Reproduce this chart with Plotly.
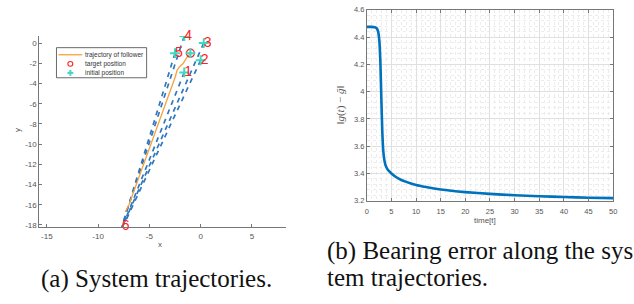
import plotly.graph_objects as go

# ---------------- data: panel (a) ----------------
leader_labels = ["1", "2", "3", "4", "5"]
leader_start_x = [-1.6, 0.0, 0.3, -1.6, -2.5]
leader_start_y = [-2.9, -1.7, 0.0, 0.7, -1.0]
leader_end_x = [-7.55, -7.45, -7.6, -7.7, -7.65]
leader_end_y = [-18.0, -17.9, -18.1, -18.2, -18.1]

meet_label = "6"
meet_x = [-7.7]
meet_y = [-18.2]

follower_x = [-1.0, -1.34, -1.73, -2.08, -2.30, -2.47, -6.98, -7.35]
follower_y = [-1.0, -1.41, -2.05, -2.37, -2.69, -3.33, -15.98, -16.7]

target_x = [-1.0]
target_y = [-1.0]

initial_x = [-1.6, 0.0, 0.3, -1.6, -2.5, -1.0]
initial_y = [-2.9, -1.7, 0.0, 0.7, -1.0, -1.0]

legend_names = ["trajectory of follower", "target position", "initial position"]

x_ticks_a = [-15, -10, -5, 0, 5]
y_ticks_a = [0, -2, -4, -6, -8, -10, -12, -14, -16, -18]

# ---------------- data: panel (b) ----------------
time_t = [0, 1.0, 1.6, 2.0, 2.3, 2.55, 2.75, 2.95, 3.15, 3.35, 3.6, 3.9, 4.3,
          5.0, 6.0, 7.0, 8.0, 10.0, 12.0, 15.0, 20.0, 25.0, 30.0, 35.0, 40.0, 45.0, 50.0]
bearing_err = [4.475, 4.475, 4.472, 4.465, 4.44, 4.37, 4.22, 3.95, 3.70, 3.56, 3.49, 3.45, 3.425,
               3.40, 3.372, 3.352, 3.338, 3.315, 3.300, 3.282, 3.263, 3.250, 3.240, 3.233, 3.227, 3.222, 3.219]

x_ticks_b = [0, 5, 10, 15, 20, 25, 30, 35, 40, 45, 50]
y_ticks_b = [3.2, 3.4, 3.6, 3.8, 4.0, 4.2, 4.4, 4.6]
y_ticktext_b = ["3.2", "3.4", "3.6", "3.8", "4", "4.2", "4.4", "4.6"]

W, H = 634, 304


def px(x):
    return x / W


def py(y):
    return 1 - y / H


BLUE = "#0072BD"
ORANGE = "#F5A23C"
CYAN = "#3fd8c4"
RED = "#ff2020"
AX = "#777777"
TICKFONT = dict(family="Liberation Sans, Arial", size=8, color="#555555")
TICKFONT_B = dict(family="Liberation Sans, Arial", size=7.5, color="#555555")

fig = go.Figure()

# leader trajectories (dashed)
for i in range(len(leader_labels)):
    fig.add_trace(go.Scatter(
        x=[leader_start_x[i], leader_end_x[i]], y=[leader_start_y[i], leader_end_y[i]],
        mode="lines", line=dict(color="#3177bd", width=1.7, dash="5px,5px"),
        showlegend=False, hoverinfo="skip", xaxis="x", yaxis="y"))

fig.add_trace(go.Scatter(
    x=follower_x, y=follower_y, mode="lines", name=legend_names[0],
    line=dict(color=ORANGE, width=1.3), showlegend=False, xaxis="x", yaxis="y"))

fig.add_trace(go.Scatter(
    x=target_x, y=target_y, mode="markers", name=legend_names[1],
    marker=dict(symbol="circle-open", size=8, color=RED, line=dict(width=1.2, color=RED)),
    showlegend=False, xaxis="x", yaxis="y"))

fig.add_trace(go.Scatter(
    x=initial_x, y=initial_y, mode="markers", name=legend_names[2],
    marker=dict(symbol="cross-thin", size=7, color=CYAN, line=dict(width=2, color=CYAN)),
    showlegend=False, xaxis="x", yaxis="y"))

fig.add_trace(go.Scatter(
    x=leader_start_x + meet_x, y=leader_start_y + meet_y, mode="text",
    text=leader_labels + [meet_label], textposition="middle right",
    textfont=dict(family="Liberation Sans, Arial", size=14, color=RED),
    cliponaxis=False, showlegend=False, hoverinfo="skip", xaxis="x", yaxis="y"))

# panel (b)
fig.add_trace(go.Scatter(
    x=time_t, y=bearing_err, mode="lines",
    line=dict(color=BLUE, width=2.6, shape="spline", smoothing=0.5),
    showlegend=False, xaxis="x2", yaxis="y2"))

fig.update_layout(
    width=W, height=H, margin=dict(l=0, r=0, t=0, b=0),
    paper_bgcolor="white", plot_bgcolor="white", showlegend=False,
    font=dict(family="Liberation Sans, Arial", size=8, color="#555555"),
    xaxis=dict(domain=[px(37.7), px(287)], range=[-15.73, 8.35],
               tickvals=x_ticks_a, ticktext=[str(v) for v in x_ticks_a],
               showline=True, linecolor=AX, linewidth=1, mirror=False,
               ticks="inside", ticklen=3, tickcolor=AX, ticklabelstandoff=1,
               showgrid=False, zeroline=False, tickfont=TICKFONT, anchor="y"),
    yaxis=dict(domain=[py(230), py(33)], range=[-18.22, 0.7],
               tickvals=y_ticks_a, ticktext=[str(v) for v in y_ticks_a],
               showline=True, linecolor=AX, linewidth=1, mirror=False,
               ticks="inside", ticklen=3, tickcolor=AX,
               showgrid=False, zeroline=False, tickfont=TICKFONT, anchor="x"),
    xaxis2=dict(domain=[px(368.3), px(617)], range=[0, 50],
                tickvals=x_ticks_b, ticktext=[str(v) for v in x_ticks_b],
                showline=True, linecolor=AX, linewidth=1, mirror="ticks",
                ticks="inside", ticklen=3, tickcolor=AX, ticklabelstandoff=3,
                showgrid=True, gridcolor="#e0e0e0", gridwidth=1, zeroline=False,
                minor=dict(dtick=1, showgrid=True, gridcolor="#ececec", griddash="dot", ticks=""),
                tickfont=TICKFONT_B, anchor="y2"),
    yaxis2=dict(domain=[py(202.7), py(6)], range=[3.2, 4.6],
                tickvals=y_ticks_b, ticktext=y_ticktext_b,
                showline=True, linecolor=AX, linewidth=1, mirror="ticks",
                ticks="inside", ticklen=3, tickcolor=AX,
                showgrid=True, gridcolor="#e0e0e0", gridwidth=1, zeroline=False,
                minor=dict(dtick=0.04, showgrid=True, gridcolor="#ececec", griddash="dot", ticks=""),
                tickfont=TICKFONT_B, anchor="x2"),
)

# ----- manual legend box (panel a) -----
shapes = []
shapes.append(dict(type="rect", xref="paper", yref="paper",
                   x0=px(55), x1=px(146), y0=py(76), y1=py(45),
                   line=dict(color="#444444", width=0.8), fillcolor="white", layer="above"))
row_y = [52.3, 61.7, 71.0]
shapes.append(dict(type="line", xref="paper", yref="paper",
                   x0=px(57), x1=px(81), y0=py(row_y[0]), y1=py(row_y[0]),
                   line=dict(color=ORANGE, width=1.3), layer="above"))
shapes.append(dict(type="circle", xref="paper", yref="paper",
                   x0=px(66.5), x1=px(71.5), y0=py(row_y[1] + 2.5), y1=py(row_y[1] - 2.5),
                   line=dict(color=RED, width=1.1), layer="above"))
shapes.append(dict(type="line", xref="paper", yref="paper",
                   x0=px(66), x1=px(72), y0=py(row_y[2]), y1=py(row_y[2]),
                   line=dict(color=CYAN, width=2), layer="above"))
shapes.append(dict(type="line", xref="paper", yref="paper",
                   x0=px(69), x1=px(69), y0=py(row_y[2] + 3), y1=py(row_y[2] - 3),
                   line=dict(color=CYAN, width=2), layer="above"))
fig.update_layout(shapes=shapes)


def label(text, x, y, size=8, angle=0, family="Liberation Sans, Arial", color="#555555",
          xanchor="center"):
    return dict(text=text, x=px(x), y=py(y), xref="paper", yref="paper",
                xanchor=xanchor, yanchor="middle", showarrow=False, textangle=angle,
                font=dict(family=family, size=size, color=color))


ann = []
for name, ry in zip(legend_names, row_y):
    ann.append(label(name, 82, ry, size=6.5, color="#333333", xanchor="left"))
# axis titles
ann.append(label("x", 160, 248))
ann.append(label("y", 15, 130, angle=-90))
ann.append(label("time[t]", 488, 223))
ann.append(label("‖<i>g</i>(<i>t</i>) − <i>ḡ</i>‖", 342, 104, size=11, angle=-90,
                 family="Liberation Serif, Times New Roman"))
# captions
SERIF = "Liberation Serif, Times New Roman"
ann.append(label("(a) System trajectories.", 155.5, 283, size=25, family=SERIF, color="#111111"))
ann.append(label("(b) Bearing error along the sys", 325.7, 255, size=25, family=SERIF,
                 color="#111111", xanchor="left"))
ann.append(label("tem trajectories.", 325.7, 282, size=25, family=SERIF,
                 color="#111111", xanchor="left"))
fig.update_layout(annotations=ann)

fig.write_html("out.html", config={"displayModeBar": False},
               post_script="document.body.style.margin='0';")
